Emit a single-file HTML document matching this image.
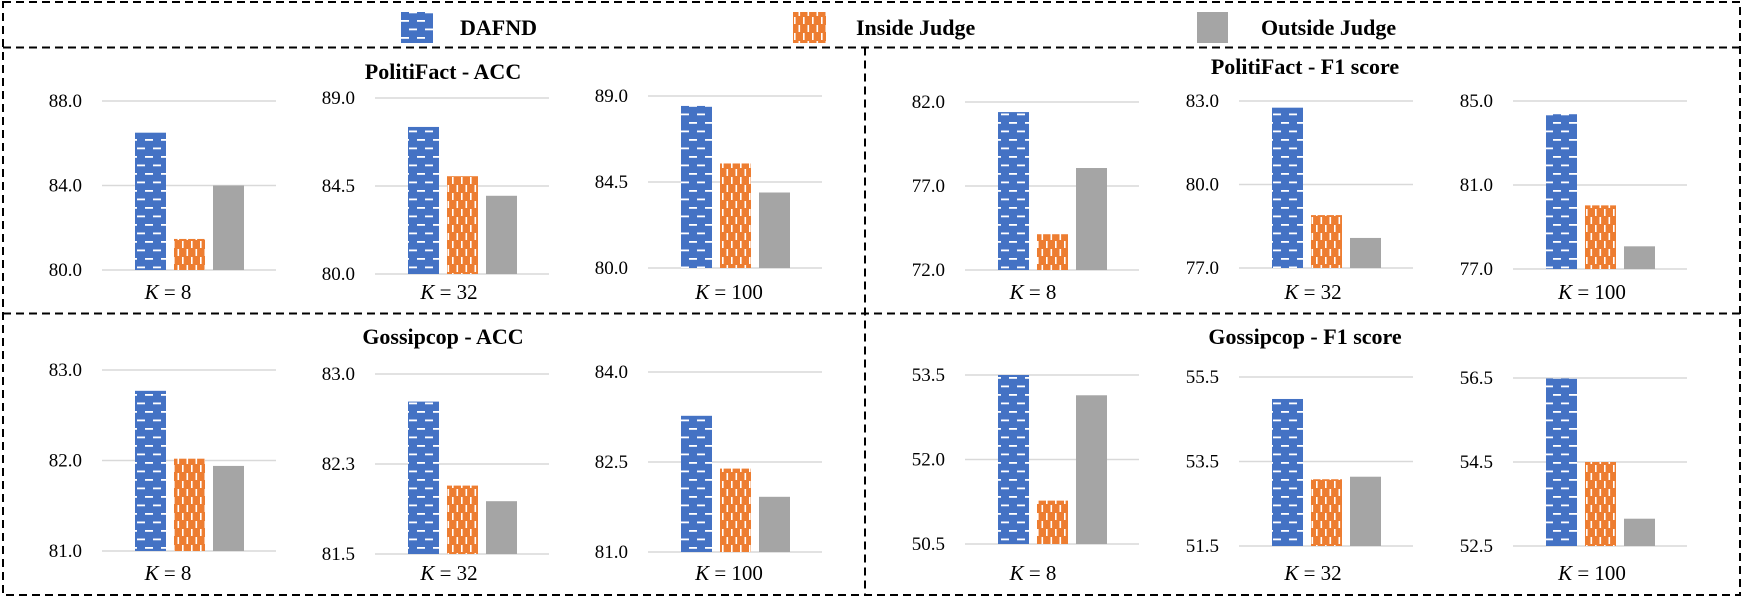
<!DOCTYPE html>
<html><head><meta charset="utf-8"><style>
html,body{margin:0;padding:0;background:#fff;}
svg{display:block;}
text{font-family:"Liberation Serif",serif;}
</style></head><body>
<svg id="fig" width="1743" height="600" viewBox="0 0 1743 600" xmlns="http://www.w3.org/2000/svg">
<defs>
<pattern id="pBlue" patternUnits="userSpaceOnUse" width="16" height="17">
<rect width="16" height="17" fill="#4472C4"/>
<rect x="1" y="3" width="8" height="1.8" fill="#fff"/>
<rect x="9" y="11.5" width="8" height="1.8" fill="#fff"/>
<rect x="-7" y="11.5" width="8" height="1.8" fill="#fff"/>
</pattern>
<pattern id="pOrange" patternUnits="userSpaceOnUse" width="9" height="16">
<rect width="9" height="16" fill="#ED7D31"/>
<rect x="2" y="1" width="1.6" height="7" fill="#fff"/>
<rect x="6.5" y="9" width="1.6" height="7" fill="#fff"/>
</pattern>
</defs>
<g id="frame" fill="none" stroke="#000" stroke-width="2" stroke-dasharray="8,5">
<rect x="3" y="2" width="1737" height="593"/>
<line x1="3" y1="47.5" x2="1740" y2="47.5"/>
<line x1="865" y1="47.5" x2="865" y2="595"/>
<line x1="3" y1="313.5" x2="1740" y2="313.5"/>
</g>
<g>
<g><rect x="401" y="12" width="32" height="31" fill="url(#pBlue)"/><text x="460" y="35" font-size="22" font-weight="bold">DAFND</text></g>
<g><rect x="793" y="12" width="33" height="31" fill="url(#pOrange)"/><text x="856" y="35" font-size="22" font-weight="bold">Inside Judge</text></g>
<g><rect x="1197" y="12" width="31" height="31" fill="#A5A5A5"/><text x="1261" y="35" font-size="22" font-weight="bold">Outside Judge</text></g>
</g>
<text x="443" y="79" font-size="22" font-weight="bold" text-anchor="middle">PolitiFact - ACC</text>
<text x="1305" y="74" font-size="22" font-weight="bold" text-anchor="middle">PolitiFact - F1 score</text>
<text x="443" y="344" font-size="22" font-weight="bold" text-anchor="middle">Gossipcop - ACC</text>
<text x="1305" y="344" font-size="22" font-weight="bold" text-anchor="middle">Gossipcop - F1 score</text>
<g id="charts"></g>
</svg>
<script>
const kLabels = ["8","32","100","8","32","100","8","32","100","8","32","100"];
const dafnd   = [86.5, 87.52, 88.48, 81.4, 82.76, 84.37, 82.77, 82.77, 83.27, 53.5, 54.98, 56.49];
const inside  = [81.47, 85.0, 85.47, 74.13, 78.9, 80.03, 82.02, 82.07, 82.39, 51.27, 53.08, 54.5];
const outside = [84.0, 84.0, 83.95, 78.07, 78.08, 78.08, 81.94, 81.94, 81.92, 53.14, 53.14, 53.15];
const axisMin = [80, 80, 80, 72, 77, 77, 81, 81.5, 81, 50.5, 51.5, 52.5];
const axisMax = [88, 89, 89, 82, 83, 85, 83, 83, 84, 53.5, 55.5, 56.5];
const tickLabels = [
 ["80.0","84.0","88.0"],["80.0","84.5","89.0"],["80.0","84.5","89.0"],
 ["72.0","77.0","82.0"],["77.0","80.0","83.0"],["77.0","81.0","85.0"],
 ["81.0","82.0","83.0"],["81.5","82.3","83.0"],["81.0","82.5","84.0"],
 ["50.5","52.0","53.5"],["51.5","53.5","55.5"],["52.5","54.5","56.5"]];

// layout (not data)
const gridLeftCol = [102, 375, 648, 965, 1239, 1513];
const kCenterCol = [168, 449, 729, 1033, 1313, 1592];
const gridTops = [101, 98, 96, 102, 101, 101, 370, 374, 372, 375, 377, 378];
const gridBots = [270, 274, 268, 270, 268, 269, 551, 554, 552, 544, 546, 546];
const NS = "http://www.w3.org/2000/svg";
const root = document.getElementById('charts');
function mk(tag, attrs, parent){const e=document.createElementNS(NS,tag);for(const k in attrs)e.setAttribute(k,attrs[k]);parent.appendChild(e);return e;}

for (let i = 0; i < 12; i++) {
  const col = (i < 6) ? i : i - 6;
  const row = (i < 6) ? 0 : 1;
  const gl = gridLeftCol[col], gw = 174;
  const top = gridTops[i], bot = gridBots[i];
  const y = v => bot - (v - axisMin[i]) / (axisMax[i] - axisMin[i]) * (bot - top);
  const g = mk('g', {}, root);
  
  
  for (let t = 0; t < 3; t++) {
    const ty = bot - t * (bot - top) / 2;
    const ln = mk('line', {x1: gl, x2: gl + gw, y1: ty, y2: ty, stroke: '#d9d9d9', 'stroke-width': 1.5}, g);
    
    
    const tx = mk('text', {x: gl - 20, y: ty + 6, 'font-size': 19, 'text-anchor': 'end'}, g);
    
    
    tx.textContent = tickLabels[i][t];
  }
  const vals = [dafnd[i], inside[i], outside[i]];
  const fills = ['url(#pBlue)', 'url(#pOrange)', '#A5A5A5'];
  const names = ['bar-dafnd', 'bar-inside-judge', 'bar-outside-judge'];
  for (let s = 0; s < 3; s++) {
    const yt = y(vals[s]);
    const r = mk('rect', {x: gl + 33 + s * 39, y: yt, width: 31, height: bot - yt, fill: fills[s]}, g);
    
    
  }
  const ky = row === 0 ? 299 : 580;
  const kt = mk('text', {x: kCenterCol[col], y: ky, 'font-size': 21, 'text-anchor': 'middle'}, g);
  
  
  const ki = mk('tspan', {'font-style': 'italic'}, kt); ki.textContent = 'K';
  const kr = mk('tspan', {}, kt); kr.textContent = ' = ' + kLabels[i];
}
</script>
</body></html>
